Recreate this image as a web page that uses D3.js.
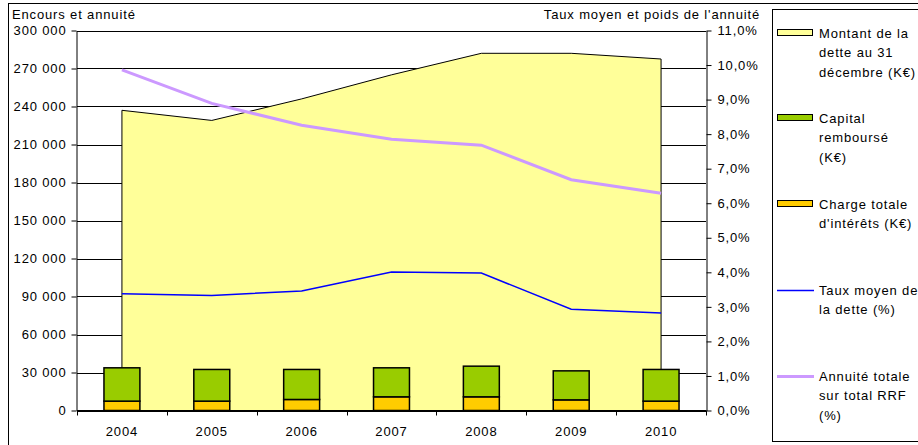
<!DOCTYPE html>
<html>
<head>
<meta charset="utf-8">
<script src="https://cdn.jsdelivr.net/npm/d3@7"></script>
<style>
  body { margin: 0; background: #fff; }
  svg text { font-family: "Liberation Sans", Arial, sans-serif; font-size: 13px; letter-spacing: 0.85px; fill: #000; }
</style>
</head>
<body>
<svg id="chart" width="918" height="445"></svg>
<script>
// 1: DATA
const years = ["2004", "2005", "2006", "2007", "2008", "2009", "2010"];
const encours = [237000, 229000, 246000, 265000, 282000, 282000, 277500];   // Montant de la dette au 31 décembre
const capital = [26300, 25000, 23700, 22900, 24200, 22900, 25000];          // Capital remboursé
const interets = [7400, 7400, 8700, 10800, 10800, 8400, 7400];              // Charge totale d'intérêts
const tauxMoyen = [3.38, 3.33, 3.46, 4.01, 3.98, 2.93, 2.82];               // %
const annuiteRRF = [9.86, 8.89, 8.26, 7.85, 7.68, 6.68, 6.29];              // %
const leftTicks = d3.range(0, 300001, 30000);
const rightTicks = d3.range(0, 11.01, 1);

const rows = years.map((y, i) => ({
    year: y, encours: encours[i], capital: capital[i], interets: interets[i],
    taux: tauxMoyen[i], annuite: annuiteRRF[i]
}));

// 2: LAYOUT
const plotLeft = 77, plotRight = 706, plotTop = 30.5, plotBottom = 410.5;
const svg = d3.select("#chart");

const fr = d3.formatLocale({ decimal: ",", thousands: " ", grouping: [3], currency: ["", "€"] });
const fmtLeft = fr.format(",d");
const fmtRight = d => fr.format(".1f")(d) + "%";

// outer chart border
svg.append("rect")
    .attr("x", 8.5).attr("y", 3.5)
    .attr("width", 930).attr("height", 460)
    .attr("fill", "none").attr("stroke", "#000");

// 3: SCALES
const x = d3.scaleBand().domain(years).range([plotLeft, plotRight]).paddingInner(0.6).paddingOuter(0.3);
const xStep = (plotRight - plotLeft) / years.length;
const cx = d => x(d) + x.bandwidth() / 2;
const yL = d3.scaleLinear().domain([0, 300000]).range([plotBottom, plotTop]);
const yR = d3.scaleLinear().domain([0, 11]).range([plotBottom, plotTop]);

// 4: GRIDLINES
svg.append("g").selectAll("line").data(leftTicks).join("line")
    .attr("x1", plotLeft).attr("x2", plotRight)
    .attr("y1", d => Math.round(yL(d)) + 0.5).attr("y2", d => Math.round(yL(d)) + 0.5)
    .attr("stroke", "#000").attr("stroke-width", 1);

// 5: AREA (encours)
const area = d3.area()
    .x(d => cx(d.year))
    .y0(yL(0))
    .y1(d => yL(d.encours));
svg.append("path").datum(rows)
    .attr("d", area)
    .attr("fill", "#FFFF99")
    .attr("stroke", "#000")
    .attr("stroke-width", 1);

// 6: STACKED BARS
const stack = d3.stack().keys(["interets", "capital"])(rows);
const barColors = { interets: "#FFCC00", capital: "#99CC00" };
stack.forEach(layer => {
    svg.append("g").selectAll("rect").data(layer).join("rect")
        .attr("x", d => x(d.data.year))
        .attr("width", x.bandwidth())
        .attr("y", d => yL(d[1]))
        .attr("height", d => yL(d[0]) - yL(d[1]))
        .attr("fill", barColors[layer.key])
        .attr("stroke", "#000")
        .attr("stroke-width", 1.5);
});

// 7: LINES
const lineTaux = d3.line().x(d => cx(d.year)).y(d => yR(d.taux));
const lineAnn = d3.line().x(d => cx(d.year)).y(d => yR(d.annuite));
svg.append("path").datum(rows)
    .attr("d", lineTaux).attr("fill", "none")
    .attr("stroke", "#0000FF").attr("stroke-width", 1.5);
svg.append("path").datum(rows)
    .attr("d", lineAnn).attr("fill", "none")
    .attr("stroke", "#CC99FF").attr("stroke-width", 3);

// 8: AXES
const axisStyle = g => {
    g.select(".domain").attr("stroke", "#000");
    g.selectAll(".tick line").attr("stroke", "#000");
    g.selectAll(".tick text").style("font-family", "Liberation Sans, Arial, sans-serif")
        .style("font-size", "13px").attr("fill", "#000");
};

svg.append("g")
    .attr("transform", `translate(${plotLeft - 0.5},0)`)
    .call(d3.axisLeft(yL).tickValues(leftTicks).tickFormat(fmtLeft).tickSizeInner(5).tickSizeOuter(0).tickPadding(5))
    .call(axisStyle);

svg.append("g")
    .attr("transform", `translate(${plotRight + 0.5},0)`)
    .call(d3.axisRight(yR).tickValues(rightTicks).tickFormat(fmtRight).tickSizeInner(5).tickSizeOuter(0).tickPadding(6))
    .call(axisStyle);

// bottom axis: ticks at category boundaries, labels at centers
const xb = svg.append("g").attr("transform", `translate(0,${plotBottom})`);
xb.append("line").attr("x1", plotLeft).attr("x2", plotRight).attr("stroke", "#000");
xb.selectAll("line.tk").data(d3.range(years.length + 1)).join("line")
    .attr("class", "tk")
    .attr("x1", i => Math.round(plotLeft + i * xStep) + 0.5).attr("x2", i => Math.round(plotLeft + i * xStep) + 0.5)
    .attr("y1", 0).attr("y2", 5).attr("stroke", "#000");
xb.selectAll("text").data(years).join("text")
    .attr("x", d => cx(d))
    .attr("y", 25)
    .attr("text-anchor", "middle")
    .text(d => d);

// 9: AXIS TITLES
svg.append("text").attr("x", 12).attr("y", 18.5).text("Encours et annuité");
svg.append("text").attr("x", 760).attr("y", 18.5).attr("text-anchor", "end").text("Taux moyen et poids de l'annuité");

// 10: LEGEND
svg.append("rect")
    .attr("x", 772.5).attr("y", 9.5)
    .attr("width", 200).attr("height", 432)
    .attr("fill", "#fff").attr("stroke", "#000");

const legend = [
    { type: "box", color: "#FFFF99", y: 33, lines: ["Montant de la", "dette au 31", "décembre (K€)"] },
    { type: "box", color: "#99CC00", y: 118, lines: ["Capital", "remboursé", "(K€)"] },
    { type: "box", color: "#FFCC00", y: 204, lines: ["Charge totale", "d'intérêts (K€)"] },
    { type: "line", color: "#0000FF", w: 1.5, y: 290, lines: ["Taux moyen de", "la dette (%)"] },
    { type: "line", color: "#CC99FF", w: 3, y: 376, lines: ["Annuité totale", "sur total RRF", "(%)"] }
];

legend.forEach(d => {
    if (d.type === "box") {
        svg.append("rect")
            .attr("x", 777.5).attr("y", d.y - 3.5)
            .attr("width", 35).attr("height", 6)
            .attr("fill", d.color).attr("stroke", "#000").attr("stroke-width", 1);
    } else {
        svg.append("line")
            .attr("x1", 777).attr("x2", 814)
            .attr("y1", d.y + 0.5).attr("y2", d.y + 0.5)
            .attr("stroke", d.color).attr("stroke-width", d.w);
    }
    const t = svg.append("text").attr("x", 819).attr("y", d.y + 5);
    d.lines.forEach((ln, i) => {
        t.append("tspan").attr("x", 819).attr("dy", i === 0 ? 0 : 19.3).text(ln);
    });
});
</script>
</body>
</html>
